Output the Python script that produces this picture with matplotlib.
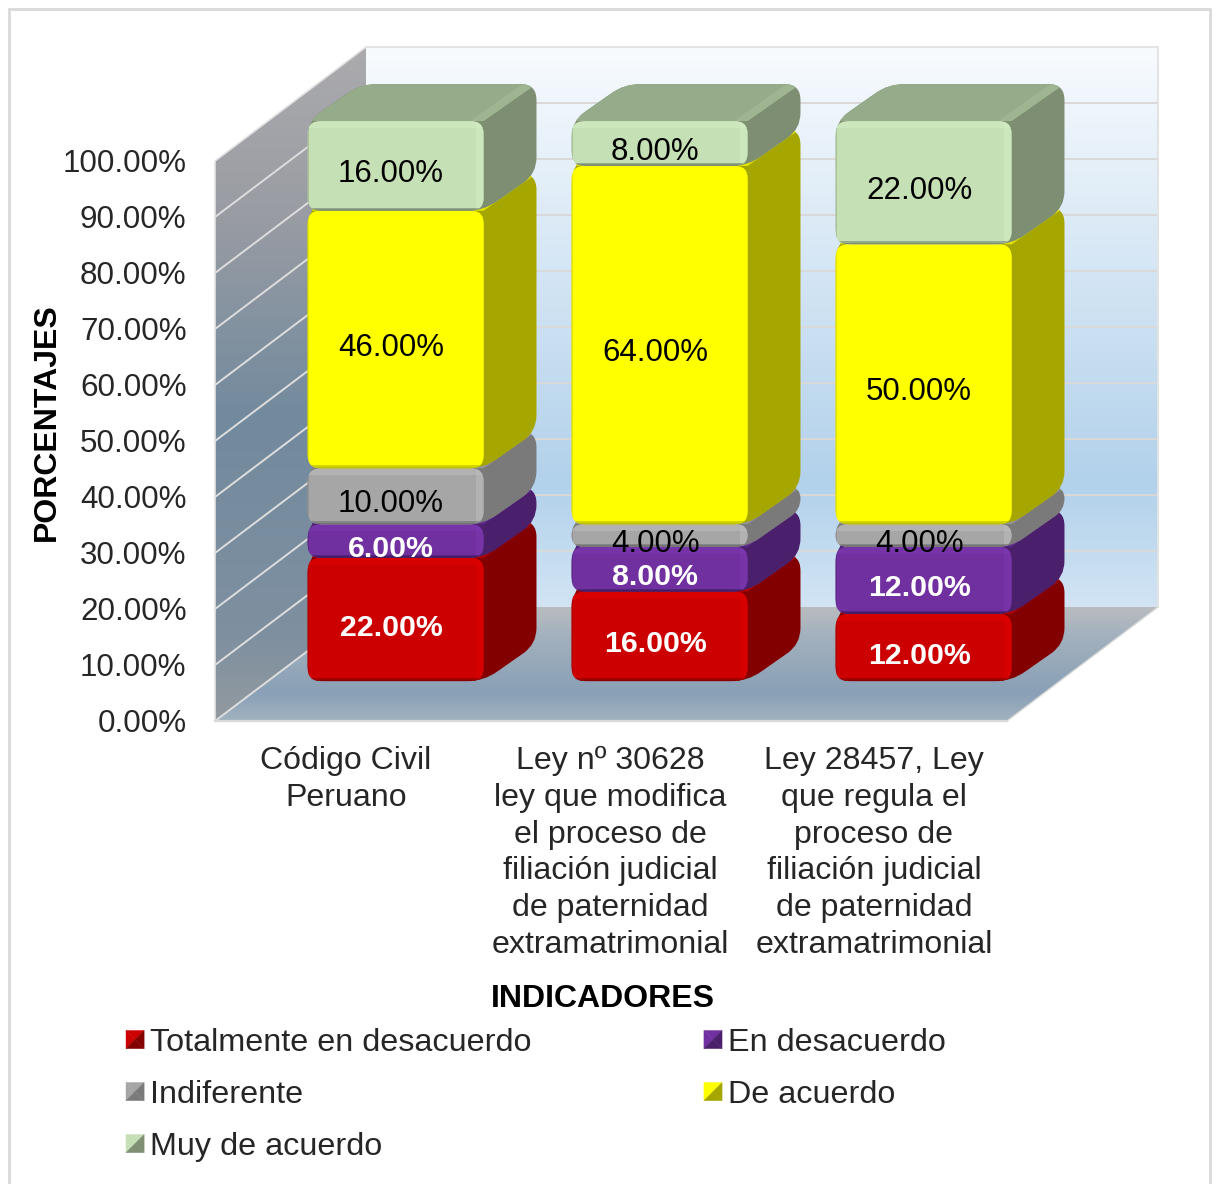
import numpy as np
import matplotlib
matplotlib.use('Agg')
import matplotlib.pyplot as plt
from matplotlib.colors import LinearSegmentedColormap
from matplotlib.legend_handler import HandlerBase
from matplotlib.patches import Patch, PathPatch, Polygon, Rectangle
from matplotlib.path import Path

plt.rcParams['font.family'] = ['Liberation Sans', 'DejaVu Sans']

categories = ['Código Civil\nPeruano',
              'Ley nº 30628\nley que modifica\nel proceso de\nfiliación judicial\nde paternidad\nextramatrimonial',
              'Ley 28457, Ley\nque regula el\nproceso de\nfiliación judicial\nde paternidad\nextramatrimonial']
series_names = ['Totalmente en desacuerdo', 'En desacuerdo', 'Indiferente', 'De acuerdo', 'Muy de acuerdo']
totalmente = [22, 16, 12]
desacuerdo = [6, 8, 12]
indiferente = [10, 4, 4]
de_acuerdo = [46, 64, 50]
muy_acuerdo = [16, 8, 22]
series_values = [totalmente, desacuerdo, indiferente, de_acuerdo, muy_acuerdo]
y_ticks = [0, 10, 20, 30, 40, 50, 60, 70, 80, 90, 100]

front_colors = ['#CC0000', '#7030A0', '#A6A6A6', '#FFFF00', '#C5E0B4']
light_colors = ['#E00000', '#7E38B0', '#BDBDBD', '#FFFF00', '#D4EDC4']
top_colors = ['#A80000', '#5B2889', '#8C8C8C', '#E0E000', '#96AB89']
side_colors = ['#830000', '#4A1F6B', '#7A7A7A', '#A6A600', '#7D8E72']
shadow_colors = ['#7A0000', '#3E1A5E', '#6A6A6A', '#B0B000', '#6F7F66']
label_colors = ['white', 'white', 'black', 'black', 'black']
label_weights = ['bold', 'bold', 'normal', 'normal', 'normal']

FS = 22.6
FS_CAT = 23.1
FS_LEG = 23.3
FS_AXIS = 23.0
# pixel layout of the plot box in the 1219x1184 picture
PX_X = 264.0   # pixels for one category
PX_Y = 5.6     # pixels for one percent
DX = 151 / PX_X   # depth of the box, in x units
DY = 114 / PX_Y   # depth of the box, in y units
BAR_W = 176 / PX_X
ZX0, ZY0 = 0.322, 0.35   # where the bars start in the depth
ZXD, ZYD = 0.35, 0.325   # how deep the bars are


def rounded(points, r_px):
    # closed path with the corners cut by a curve, radius in pixels
    pts = np.array(points, dtype=float) * [PX_X, PX_Y]
    n = len(pts)
    verts, codes = [], []
    for k in range(n):
        p = pts[k]
        a = pts[k - 1]
        b = pts[(k + 1) % n]
        la = np.hypot(*(a - p))
        lb = np.hypot(*(b - p))
        r = min(r_px, la / 2, lb / 2)
        start = p + (a - p) / la * r
        end = p + (b - p) / lb * r
        verts += [start, p, end]
        codes += [Path.MOVETO if k == 0 else Path.LINETO, Path.CURVE3, Path.CURVE3]
    verts.append(verts[0])
    codes.append(Path.CLOSEPOLY)
    return Path(np.array(verts) / [PX_X, PX_Y], codes)


def gradient(ax, poly, stops, ylo, yhi, zorder=1):
    cmap = LinearSegmentedColormap.from_list('g', stops)
    xs = [p[0] for p in poly]
    im = ax.imshow(np.linspace(1, 0, 256)[:, None], cmap=cmap, aspect='auto', vmin=0, vmax=1,
                   extent=(min(xs), max(xs), ylo, yhi), origin='upper', zorder=zorder)
    im.set_clip_box(fig.bbox)
    im.set_clip_path(Polygon(poly, transform=ax.transData))


def add_clipped(ax, artist, to_patch):
    # add_patch leaves the axes box as clip, the bars go past it
    ax.add_patch(artist)
    artist.set_clip_box(fig.bbox)
    artist.set_clip_path(to_patch)


def draw_segment(ax, i, bottom, value, s, z):
    x0 = i + 0.5 - BAR_W / 2 + ZX0 * DX
    x1 = x0 + BAR_W
    y0 = bottom + ZY0 * DY
    y1 = y0 + value
    dx = ZXD * DX
    dy = ZYD * DY
    r = min(13, value * PX_Y / 2)

    # outline of the whole block, then the top face clipped to it
    outline = rounded([(x0, y0), (x1, y0), (x1 + dx, y0 + dy), (x1 + dx, y1 + dy),
                       (x0 + dx, y1 + dy), (x0, y1)], r + 3)
    block = PathPatch(outline, fc=side_colors[s], ec='none', zorder=z, clip_on=False)
    ax.add_patch(block)
    top = Polygon([(x0, y1), (x1, y1), (x1 + dx, y1 + dy), (x0 + dx, y1 + dy)],
                  fc=top_colors[s], ec='none', zorder=z + 0.1)
    add_clipped(ax, top, block)

    front = rounded([(x0, y0), (x1, y0), (x1, y1), (x0, y1)], r)
    front_patch = PathPatch(front, fc=front_colors[s], ec='none', zorder=z + 0.2, clip_on=False)
    ax.add_patch(front_patch)

    # bevels of the face: lighter to the top and the right, dark line at the bottom
    bands = [
        (x0, y1 - 7 / PX_Y, BAR_W, 7 / PX_Y, light_colors[s], 0.55),
        (x1 - 8 / PX_X, y0, 8 / PX_X, value, light_colors[s], 0.55),
        (x0, y0, BAR_W, 3 / PX_Y, shadow_colors[s], 0.55),
        (x0, y0, BAR_W, 1.5 / PX_Y, shadow_colors[s], 0.6),
        (x0, y0, 1.5 / PX_X, value, shadow_colors[s], 0.3),
    ]
    for bx, by, bw, bh, col, alpha in bands:
        band = Rectangle((bx, by), bw, bh, fc=col, ec='none', alpha=alpha, zorder=z + 0.3)
        add_clipped(ax, band, front_patch)

    # light strip at the right of the top face
    strip = Polygon([(x1 - 14 / PX_X, y1), (x1, y1), (x1 + dx, y1 + dy), (x1 + dx - 14 / PX_X, y1 + dy)],
                    fc=light_colors[s], ec='none', alpha=0.15, zorder=z + 0.15)
    add_clipped(ax, strip, block)


class PyramidHandler(HandlerBase):
    # little bevelled square of the legend
    def create_artists(self, legend, orig, xd, yd, w, h, fontsize, trans):
        s = min(w, h)
        x = -xd
        y = -yd + (h - s) / 2
        c = (x + s / 2, y + s / 2)
        tl, tr, br, bl = (x, y + s), (x + s, y + s), (x + s, y), (x, y)
        light = orig.get_facecolor()
        dark = orig.get_edgecolor()
        parts = [([tl, tr, c], light), ([tl, bl, c], light), ([tr, br, c], dark), ([bl, br, c], dark)]
        return [Polygon(p, fc=col, ec=col, lw=0.3, transform=trans) for p, col in parts]


fig = plt.figure(figsize=(12.19, 11.84), dpi=100)
ax = fig.add_axes([215 / 1219, (1184 - 721) / 1184, 792 / 1219, 560 / 1184])
ax.patch.set_visible(False)
for sp in ax.spines.values():
    sp.set_visible(False)

fig.add_artist(Rectangle((9 / 1219, -0.02), 1201 / 1219, 1.012, transform=fig.transFigure,
                         fc='white', ec='#D9D9D9', lw=2, zorder=-5))

n = len(categories)

# walls and floor of the box
back = [(DX, DY), (n + DX, DY), (n + DX, 100 + DY), (DX, 100 + DY)]
left = [(0, 0), (DX, DY), (DX, 100 + DY), (0, 100)]
floor = [(0, 0), (n, 0), (n + DX, DY), (DX, DY)]
gradient(ax, back, [(0, '#D2E4F4'), (0.22, '#B2D1EB'), (1, '#F8FBFE')], DY, 100 + DY)
gradient(ax, left, [(0, '#939A9F'), (0.12, '#7F90A0'), (0.45, '#728A9E'), (0.75, '#999CA3'), (1, '#ABABAE')], 0, 100 + DY)
gradient(ax, floor, [(0, '#A2B2C0'), (0.25, '#89A0B6'), (0.75, '#A3B1BE'), (1, '#B9BCBF')], 0, DY)

for v in y_ticks[1:-1]:
    ax.plot([DX, n + DX], [v + DY, v + DY], color='#D9D9D9', lw=1.4, zorder=2, clip_on=False)
    ax.plot([0, DX], [v, v + DY], color='#DDDDDD', lw=1.4, zorder=2, clip_on=False)
ax.plot([0, DX], [0, DY], color='#DDDDDD', lw=1.4, zorder=2, clip_on=False)
ax.plot([DX, n + DX, n + DX], [100 + DY, 100 + DY, DY], color='#E3E3E3', lw=1.4, zorder=2, clip_on=False)
ax.plot([0, 0, DX], [0, 100, 100 + DY], color='#E3E3E3', lw=1.2, zorder=2, clip_on=False)
ax.plot([0, n], [0, 0], color='#D9D9D9', lw=1.6, zorder=2, clip_on=False)
ax.plot([n, n + DX], [0, DY], color='#D9D9D9', lw=1.0, zorder=2, clip_on=False)

# bars, from the bottom up so each one sits over the top of the one below
z = 3
for i in range(n):
    bottom = 0
    for s, vals in enumerate(series_values):
        draw_segment(ax, i, bottom, vals[i], s, z)
        ax.text(i + 0.5 + ZX0 * DX - 4.5 / PX_X, bottom + vals[i] / 2 + ZY0 * DY - 8 / PX_Y,
                '{:.2f}%'.format(vals[i]), ha='center', va='center', fontsize=22.5 if s > 1 else 21.8,
                color=label_colors[s], fontweight=label_weights[s], zorder=50, clip_on=False)
        bottom += vals[i]
        z += 1

ax.set_xlim(0, n)
ax.set_ylim(0, 100)
ax.set_yticks(y_ticks)
ax.set_yticklabels(['{:.2f}%'.format(v) for v in y_ticks], fontsize=FS, color='#262626')
ax.set_xticks(np.arange(n) + 0.5 - 1 / PX_X)
ax.set_xticklabels(categories, fontsize=FS_CAT, color='#262626', linespacing=1.29)
ax.tick_params(axis='y', length=0, pad=20.5)
ax.tick_params(axis='x', length=0, pad=18.2)

ax.set_ylabel('PORCENTAJES', fontsize=FS_AXIS, fontweight='bold')
ax.yaxis.set_label_coords((62 - 215) / 792, (721 - 422) / 560)
ax.set_xlabel('INDICADORES', fontsize=FS_AXIS, fontweight='bold', va='center')
ax.xaxis.set_label_coords((603 - 215) / 792, (721 - 999) / 560)

# legend fills by column, so the rows come out as in the chart
order = [0, 2, 4, 1, 3]
handles = [Patch(facecolor=front_colors[k], edgecolor=side_colors[k]) for k in order]
leg = ax.legend(handles, [series_names[k] for k in order], ncol=2, frameon=False, fontsize=FS_LEG,
                loc='upper left', bbox_to_anchor=(126 / 1219, 1 - 1028 / 1184), bbox_transform=fig.transFigure,
                borderaxespad=0, borderpad=0, handlelength=0.56, handleheight=0.56, handletextpad=0.17,
                labelspacing=0.68, columnspacing=5.34, labelcolor='#262626',
                handler_map={Patch: PyramidHandler()})

fig.savefig('out.png', dpi=100)
